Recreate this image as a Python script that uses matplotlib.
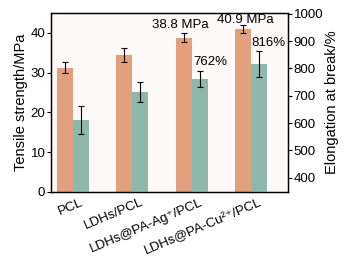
import matplotlib
matplotlib.use("Agg")
import matplotlib.pyplot as plt
from matplotlib.transforms import ScaledTranslation
import numpy as np

plt.rcParams['font.family'] = ['Liberation Sans', 'DejaVu Sans']

samples = ['PCL', 'LDHs/PCL', 'LDHs@PA-Ag⁺/PCL', 'LDHs@PA-Cu²⁺/PCL']
strength = [31.2, 34.4, 38.8, 40.9]
strength_err = [1.4, 1.7, 1.1, 1.0]
elongation = [610, 713, 762, 816]
elongation_err = [52, 37, 29, 47]

c_orange = '#e3a07e'
c_teal = '#8fb8ad'

fig = plt.figure(figsize=(3.51, 2.58), dpi=100)
ax = fig.add_axes([0.145, 0.256, 0.6755, 0.694])
ax.set_facecolor('#fef9f9')
ax2 = ax.twinx()

x = np.arange(len(samples))
w = 0.27
ekw = dict(elinewidth=0.8, capthick=0.8)
ax.bar(x - w / 2, strength, w, color=c_orange, yerr=strength_err,
       capsize=2, ecolor='black', error_kw=ekw, zorder=2)
ax2.bar(x + w / 2, elongation, w, color=c_teal, yerr=elongation_err,
        capsize=2, ecolor='black', error_kw=ekw, zorder=2)

ax.set_xlim(-0.37, 3.62)
ax.set_ylim(0, 45)
ax2.set_ylim(347, 1004)
ax.set_yticks([0, 10, 20, 30, 40])
ax2.set_yticks([400, 500, 600, 700, 800, 900, 1000])

ax.set_xticks(x)
ax.set_xticklabels(samples, rotation=23, ha='right', rotation_mode='anchor',
                   fontsize=9.6, family=['Liberation Sans', 'DejaVu Sans'])
ax.tick_params(axis='x', length=0, pad=3)
shift = ScaledTranslation(0.08, 0, fig.dpi_scale_trans)
for lbl in ax.get_xticklabels():
    lbl.set_transform(lbl.get_transform() + shift)

ax.tick_params(axis='y', labelsize=9.5, length=3, width=0.8, pad=1)
ax2.tick_params(axis='y', labelsize=9.5, length=3, width=0.8, pad=1)

ax.set_ylabel('Tensile strength/MPa', fontsize=10.5, labelpad=2)
ax2.set_ylabel('Elongation at break/%', fontsize=10.5, labelpad=1)

for a in (ax, ax2):
    for s in a.spines.values():
        s.set_linewidth(0.9)

ax.text(1.8, 40.5, '38.8 MPa', ha='center', va='bottom', fontsize=9.5)
ax.text(2.9, 41.7, '40.9 MPa', ha='center', va='bottom', fontsize=9.5)
ax2.text(2.31, 800, '762%', ha='center', va='bottom', fontsize=9.5)
ax2.text(3.29, 873, '816%', ha='center', va='bottom', fontsize=9.5)

fig.savefig('out.png', dpi=100)
